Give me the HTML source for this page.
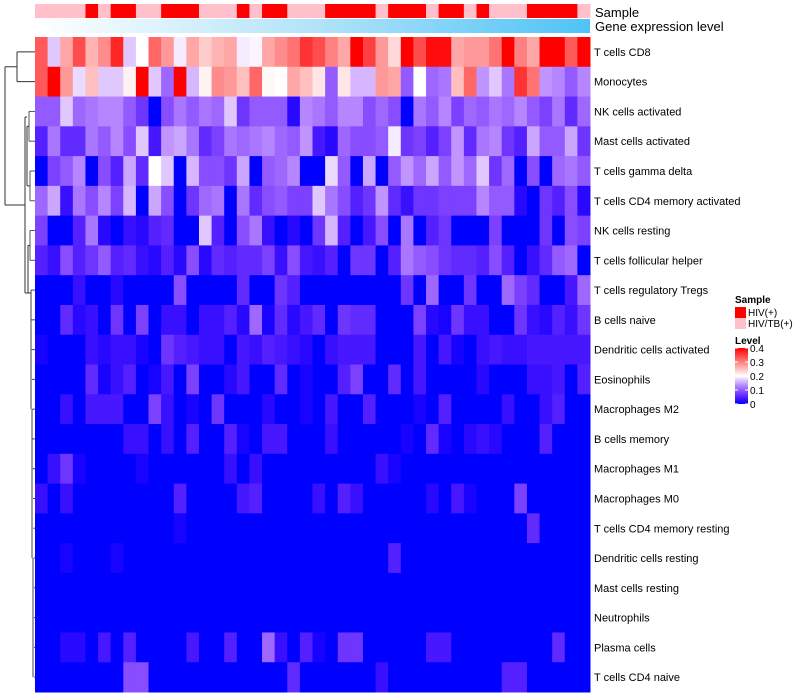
<!DOCTYPE html>
<html><head><meta charset="utf-8"><style>
html,body{margin:0;padding:0;background:#fff;width:800px;height:700px;overflow:hidden}
svg text{font-family:"Liberation Sans",sans-serif}
</style></head><body>
<svg id="chart" width="800" height="700" xmlns="http://www.w3.org/2000/svg">
<g id="dendro" stroke="#333" fill="none" stroke-width="1"></g>
<g id="anno"></g>
<g id="cells"></g>
<g id="rowlabels" font-size="11" fill="#000"></g>
<text x="595" y="17" font-size="13">Sample</text>
<text x="595" y="31" font-size="13">Gene expression level</text>
<g id="legend"></g>
</svg>
<script>
const rowNames=["T cells CD8","Monocytes","NK cells activated","Mast cells activated","T cells gamma delta","T cells CD4 memory activated","NK cells resting","T cells follicular helper","T cells regulatory  Tregs","B cells naive","Dendritic cells activated","Eosinophils","Macrophages M2","B cells memory","Macrophages M1","Macrophages M0","T cells CD4 memory resting","Dendritic cells resting","Mast cells resting","Neutrophils","Plasma cells","T cells CD4 naive"];
const sampleGroups=[0,0,0,0,1,0,1,1,0,0,1,1,1,0,0,0,1,0,1,1,0,0,0,1,1,1,1,0,1,1,1,0,1,1,0,1,0,0,0,1,1,1,1,0];
const sampleLabels=["HIV/TB(+)","HIV(+)"];
const levelTicks=[0,0.1,0.2,0.3,0.4];
const r0=[0.33,0.17,0.27,0.34,0.26,0.29,0.37,0.17,0.2,0.32,0.28,0.19,0.27,0.24,0.26,0.27,0.19,0.195,0.27,0.29,0.31,0.36,0.34,0.30,0.27,0.40,0.35,0.28,0.23,0.40,0.34,0.39,0.39,0.27,0.28,0.28,0.31,0.40,0.30,0.27,0.40,0.40,0.33,0.40];
const r1=[0.33,0.40,0.28,0.18,0.25,0.17,0.17,0.21,0.40,0.17,0.11,0.40,0.16,0.21,0.29,0.28,0.25,0.32,0.205,0.2,0.27,0.25,0.22,0.10,0.22,0.16,0.16,0.28,0.27,0.10,0.2,0.11,0.12,0.25,0.32,0.14,0.17,0.12,0.36,0.31,0.14,0.13,0.10,0.13];
const r2=[0.10,0.10,0.17,0.11,0.12,0.13,0.13,0.10,0.07,0,0.09,0.12,0.10,0.12,0.11,0.17,0.07,0.10,0.10,0.10,0.02,0.13,0.12,0.10,0.13,0.13,0.09,0.11,0.09,0,0.12,0.10,0.13,0.08,0.11,0.10,0.12,0.11,0.13,0.10,0.08,0.12,0.06,0.11];
const r3=[0.05,0.12,0.06,0.06,0.12,0.10,0.13,0.09,0.17,0.04,0.14,0.15,0.12,0.06,0.08,0.12,0.11,0.12,0.13,0.11,0.10,0.14,0.04,0.02,0.11,0.09,0.09,0.10,0.19,0.07,0.08,0.05,0.08,0.14,0.06,0.12,0.13,0.07,0.05,0.15,0.10,0.10,0.15,0.07];
const r4=[0,0.08,0.10,0.13,0,0.09,0.05,0.15,0.06,0.20,0.17,0,0.16,0.09,0.09,0.07,0.15,0,0.10,0.11,0.13,0,0,0.18,0.10,0,0.15,0,0.10,0.14,0.11,0.15,0.10,0.14,0.11,0.17,0.07,0.11,0,0.09,0,0.11,0.12,0.10];
const r5=[0.11,0.15,0.03,0.12,0.09,0.13,0.08,0.16,0,0.15,0.09,0,0.07,0.11,0.12,0,0.12,0.06,0.09,0.10,0.08,0.08,0.17,0.12,0.09,0.05,0.07,0.14,0.06,0.03,0.07,0.07,0.08,0.08,0.08,0.13,0.10,0.10,0.02,0,0.07,0.05,0.09,0.02];
const r6=[0.08,0,0,0.05,0.12,0.02,0,0.03,0.02,0.05,0.06,0,0,0.17,0.05,0,0.09,0.12,0.03,0,0.02,0,0.07,0.16,0.05,0,0.04,0.09,0,0.12,0,0.05,0.07,0,0,0,0.08,0,0,0,0.07,0,0.09,0.08];
const r7=[0.05,0.03,0.09,0.05,0.07,0.10,0.05,0.06,0.03,0.02,0.05,0.02,0.09,0.02,0.06,0.05,0.06,0.06,0.08,0.03,0.09,0.04,0.03,0.05,0,0.07,0.07,0,0.05,0.12,0.10,0.09,0.07,0.06,0.06,0.05,0.09,0.05,0,0.03,0.06,0.10,0.11,0];
const r8=[0,0,0,0.03,0,0,0.02,0,0,0,0,0.09,0,0,0,0,0.06,0,0,0.07,0.05,0,0,0,0,0,0,0,0,0.07,0,0.11,0,0,0.07,0,0,0.11,0.08,0.06,0,0,0.04,0.11];
const r9=[0,0,0.06,0.02,0.03,0,0.07,0,0.08,0,0.03,0.03,0,0.03,0.03,0.05,0.02,0.11,0.01,0.06,0.02,0.04,0.06,0,0.07,0.06,0.06,0,0,0,0.08,0.02,0.01,0.07,0.03,0.03,0,0,0.07,0.03,0.02,0.05,0.03,0.07];
const r10=[0.01,0,0,0,0.03,0.02,0.03,0.03,0.01,0,0.07,0.05,0.04,0.03,0.03,0,0.04,0.03,0.05,0.04,0.03,0.02,0,0.03,0.04,0.04,0.04,0,0,0,0.04,0,0.04,0.01,0,0.03,0.04,0.03,0.03,0.04,0.04,0.04,0.04,0.04];
const r11=[0,0,0,0,0.06,0.01,0.03,0.05,0,0.01,0.04,0,0.08,0,0,0.02,0.04,0,0,0.06,0,0.01,0,0,0.05,0.08,0,0,0.06,0,0.04,0,0,0,0,0.02,0,0,0,0.03,0.03,0.04,0,0.05];
const r12=[0,0,0.03,0,0.04,0.04,0.04,0,0,0.08,0.03,0,0.01,0,0.07,0,0,0,0.02,0,0,0.01,0,0.04,0,0,0.05,0,0,0,0.01,0,0.05,0,0,0,0,0.03,0,0,0.03,0.05,0,0];
const r13=[0,0,0,0,0,0,0,0.03,0.03,0,0.03,0,0.05,0,0,0.05,0.01,0,0.04,0.04,0,0,0,0.03,0,0,0,0,0,0.01,0,0.06,0.01,0,0.02,0.03,0.02,0,0,0,0.05,0,0,0];
const r14=[0,0.03,0.07,0.01,0,0,0,0,0.01,0,0,0,0,0,0,0.03,0,0.03,0,0,0,0,0,0,0,0,0,0.03,0.01,0,0,0,0,0,0,0,0,0,0,0,0,0,0,0];
const r15=[0.03,0,0.03,0,0,0,0,0,0,0,0,0.05,0,0,0,0,0.04,0.05,0,0,0,0,0.03,0,0.05,0.03,0,0,0,0,0,0.02,0,0.04,0.01,0,0,0,0.08,0,0,0,0,0];
const r16=[0,0,0,0,0,0,0,0,0,0,0,0.01,0,0,0,0,0,0,0,0,0,0,0,0,0,0,0,0,0,0,0,0,0,0,0,0,0,0,0,0.06,0,0,0,0];
const r17=[0,0,0.01,0,0,0,0.01,0,0,0,0,0,0,0,0,0,0,0,0,0,0,0,0,0,0,0,0,0,0.05,0,0,0,0,0,0,0,0,0,0,0,0,0,0,0];
const r18=[0,0,0,0,0,0,0,0,0,0,0,0,0,0,0,0,0,0,0,0,0,0,0,0,0,0,0,0,0,0,0,0,0,0,0,0,0,0,0,0,0,0,0,0];
const r19=[0,0,0,0,0,0,0,0,0,0,0,0,0,0,0,0,0,0,0,0,0,0,0,0,0,0,0,0,0,0,0,0,0,0,0,0,0,0,0,0,0,0,0,0];
const r20=[0,0,0.02,0.02,0,0.04,0,0.05,0,0,0,0,0.04,0,0,0.05,0,0,0.11,0.03,0,0.05,0.01,0,0.07,0.07,0,0,0,0,0,0.04,0.04,0,0,0,0,0,0,0,0,0.06,0,0];
const r21=[0,0,0,0,0,0,0,0.09,0.09,0,0,0,0,0,0,0,0,0,0,0,0.06,0,0,0,0,0,0,0.03,0,0,0,0,0,0,0,0,0,0.05,0.05,0,0,0,0,0];
const matrix=[r0,r1,r2,r3,r4,r5,r6,r7,r8,r9,r10,r11,r12,r13,r14,r15,r16,r17,r18,r19,r20,r21];

const NS="http://www.w3.org/2000/svg";
const X0=35,X1=590,Y0=37,Y1=692;
const nC=sampleGroups.length,nR=rowNames.length;
const cw=(X1-X0)/nC,rh=(Y1-Y0)/nR;
const xPos=i=>X0+i*cw, yPos=j=>Y0+j*rh;
function col(v){
  let t=Math.max(0,Math.min(0.4,v))/0.4;
  if(t<=0.5){const u=t/0.5;return `rgb(${Math.round(255*Math.pow(u,0.8))},${Math.round(255*Math.pow(u,1.5))},255)`;}
  const u=(t-0.5)/0.5;const g=Math.round(255*(1-u));return `rgb(255,${g},${g})`;
}
function mk(tag,attrs,parent){const e=document.createElementNS(NS,tag);for(const k in attrs)e.setAttribute(k,attrs[k]);parent.appendChild(e);return e;}
const cells=document.getElementById('cells');
matrix.forEach((row,j)=>row.forEach((v,i)=>{
  const r=mk('rect',{x:xPos(i),y:yPos(j),width:cw+0.5,height:rh+0.5,fill:col(v)},cells);
  
  
}));
const rl=document.getElementById('rowlabels');
rowNames.forEach((n,j)=>{const t=mk('text',{x:594,y:yPos(j)+rh/2+4},rl);t.textContent=n;
  
  });
const anno=document.getElementById('anno');
sampleGroups.forEach((g,i)=>{const r=mk('rect',{x:xPos(i),y:4,width:cw+0.5,height:14,fill:g?'#ff0000':'#ffc0cb'},anno);
  
  });
const defs=mk('defs',{},anno);
const lg=mk('linearGradient',{id:'ge',x1:0,x2:1,y1:0,y2:0},defs);
mk('stop',{offset:0,'stop-color':'#ffffff'},lg);mk('stop',{offset:0.5,'stop-color':'#b3e3f8'},lg);mk('stop',{offset:1,'stop-color':'#4fc3f7'},lg);
const ge=mk('rect',{x:X0,y:19,width:X1-X0,height:14,fill:'url(#ge)'},anno);


// dendrogram
const d=document.getElementById('dendro');
function ln(x1,y1,x2,y2,c){mk('line',{x1:x1,y1:y1,x2:x2,y2:y2,stroke:c||'#333'},d);}
const cy=j=>yPos(j)+rh/2;
ln(35,cy(0),17,cy(0));ln(35,cy(1),17,cy(1));ln(17,cy(0),17,cy(1));
const topY=(cy(0)+cy(1))/2;ln(17,topY,5,topY);
ln(5,topY,5,205);ln(5,205,25,205);
ln(25,117,25,293);
ln(35,cy(2),29,cy(2),'#555');ln(35,cy(3),29,cy(3),'#555');ln(29,cy(2),29,cy(3),'#555');
ln(35,cy(4),30,cy(4),'#555');ln(35,cy(5),30,cy(5),'#555');ln(30,cy(4),30,cy(5),'#555');
ln(29,(cy(2)+cy(3))/2,27,(cy(2)+cy(3))/2);ln(30,(cy(4)+cy(5))/2,27,(cy(4)+cy(5))/2);
ln(27,(cy(2)+cy(3))/2,27,(cy(4)+cy(5))/2);ln(27,117,25,117);
ln(35,cy(6),30,cy(6),'#555');ln(35,cy(7),30,cy(7),'#555');ln(30,cy(6),30,cy(7),'#555');
ln(30,(cy(6)+cy(7))/2,28,(cy(6)+cy(7))/2);ln(28,(cy(6)+cy(7))/2,28,293);ln(28,293,25,293);
for(let j=8;j<nR;j++){const x=31+Math.min(3,(j-8)*0.3);ln(35,cy(j),x,cy(j),'#444');}
ln(31,cy(8),31,cy(12),'#444');ln(32,cy(12),32,cy(17),'#444');ln(33,cy(17),33,cy(21),'#444');
ln(31,293,28,293);
// legend
const L=document.getElementById('legend');
const st=mk('text',{x:735,y:303,'font-size':10,'font-weight':'bold'},L);st.textContent='Sample';
[[1,307],[0,318]].forEach(([g,y])=>{
  const r=mk('rect',{x:735,y:y,width:11,height:11,fill:g?'#ff0000':'#ffc0cb'},L);
  
  
  const t=mk('text',{x:748,y:y+9,'font-size':10},L);t.textContent=sampleLabels[g];
  
  
});
const lt=mk('text',{x:735,y:344,'font-size':10,'font-weight':'bold'},L);lt.textContent='Level';
const cg=mk('linearGradient',{id:'lv',x1:0,x2:0,y1:1,y2:0},defs);
for(let k=0;k<=10;k++){mk('stop',{offset:k/10,'stop-color':col(0.4*k/10)},cg);}
const CB0=404,CB1=348;
const cb=mk('rect',{x:735,y:CB1,width:13,height:CB0-CB1,fill:'url(#lv)'},L);


levelTicks.forEach(v=>{const y=CB0-(v/0.4)*(CB0-CB1);
  mk('line',{x1:735,x2:738,y1:y,y2:y,stroke:'#fff'},L);mk('line',{x1:745,x2:748,y1:y,y2:y,stroke:'#fff'},L);
  const t=mk('text',{x:750,y:y+4,'font-size':10},L);t.textContent=String(v);
  
  });
</script>
</body></html>
